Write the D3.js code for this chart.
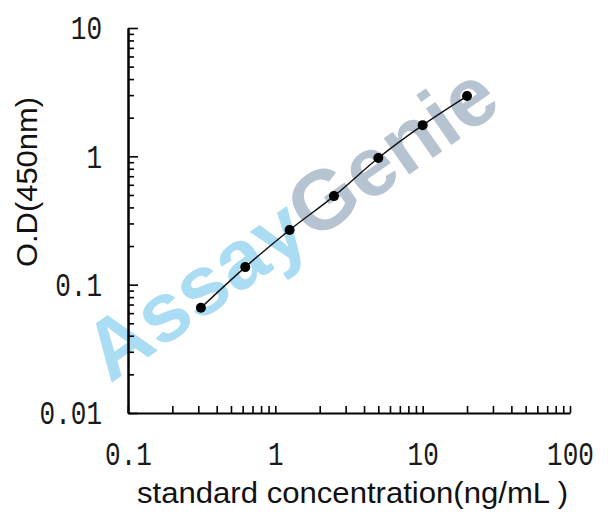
<!DOCTYPE html>
<html>
<head>
<meta charset="utf-8">
<script src="https://cdn.jsdelivr.net/npm/d3@7"></script>
<style>
  body { margin: 0; background: #fff; }
  svg { display: block; }
</style>
</head>
<body>
<div id="chart"></div>
<script>
// standard curve values
const concentrations = [0.3125, 0.625, 1.25, 2.5, 5, 10, 20];
const odValues = [0.066, 0.137, 0.267, 0.49, 0.97, 1.75, 2.95];
const xDomain = [0.1, 100];
const yDomain = [0.01, 10];
const xTitle = "standard concentration(ng/mL )";
const yTitle = "O.D(450nm)";

const width = 608, height = 527;
const svg = d3.select("#chart").append("svg")
  .attr("width", width).attr("height", height);

// scales
const x = d3.scaleLog().domain(xDomain).range([128, 570]);
const y = d3.scaleLog().domain(yDomain).range([413, 28]);

const isDecade = d => Math.abs(Math.log10(d) - Math.round(Math.log10(d))) < 1e-6;
const fmt = d => isDecade(d) ? String(+d.toPrecision(1)) : "";

// watermark behind the plot
const wm = svg.append("text")
  .attr("transform", "translate(110,384) rotate(-35)")
  .style("font-family", "'Liberation Sans', Arial, sans-serif")
  .style("font-weight", "bold")
  .style("font-size", "84px");
wm.append("tspan").attr("fill", "#aadcf3").text("Assay");
wm.append("tspan").attr("fill", "#b6c3d0").text("Genie");

// x axis, ticks point inward
svg.append("g")
  .attr("transform", `translate(0,${y.range()[0]})`)
  .call(d3.axisBottom(x).tickValues(x.ticks()).tickFormat(fmt)
    .tickSizeInner(-7).tickSizeOuter(0).tickPadding(28));

// y axis minor ticks
svg.append("g")
  .attr("transform", `translate(${x.range()[0]},0)`)
  .call(d3.axisLeft(y).tickValues(y.ticks().filter(d => !isDecade(d)))
    .tickFormat("").tickSizeInner(-6).tickSizeOuter(0));

// y axis major ticks + labels
svg.append("g")
  .attr("transform", `translate(${x.range()[0]},0)`)
  .call(d3.axisLeft(y).tickValues(y.ticks().filter(isDecade)).tickFormat(fmt)
    .tickSizeInner(-10).tickSizeOuter(0).tickPadding(26));

svg.selectAll(".domain").attr("stroke", "#000").attr("stroke-width", 2);
svg.selectAll(".tick line").attr("stroke", "#000").attr("stroke-width", 1.6);
svg.selectAll(".tick text")
  .attr("fill", "#1a1a1a")
  .style("font-family", "'Liberation Mono', 'DejaVu Sans Mono', monospace")
  .style("font-size", "34px")
  .each(function () {
    const t = d3.select(this).text();
    if (t) d3.select(this).attr("textLength", t.length * 15.6)
      .attr("lengthAdjust", "spacingAndGlyphs");
  });

// fitted curve
const line = d3.line()
  .x((d, i) => x(concentrations[i]))
  .y(d => y(d))
  .curve(d3.curveMonotoneX);

svg.append("path")
  .datum(odValues)
  .attr("d", line)
  .attr("fill", "none")
  .attr("stroke", "#111")
  .attr("stroke-width", 1.4);

svg.selectAll("circle.pt")
  .data(odValues)
  .join("circle")
  .attr("class", "pt")
  .attr("cx", (d, i) => x(concentrations[i]))
  .attr("cy", d => y(d))
  .attr("r", 5)
  .attr("fill", "#000");

// axis titles
svg.append("text")
  .attr("x", 137).attr("y", 503)
  .attr("textLength", 431)
  .attr("lengthAdjust", "spacingAndGlyphs")
  .attr("fill", "#111")
  .style("font-family", "'Liberation Sans', Arial, sans-serif")
  .style("font-size", "30px")
  .text(xTitle);

svg.append("text")
  .attr("transform", "translate(37,267) rotate(-90)")
  .attr("textLength", 170)
  .attr("lengthAdjust", "spacingAndGlyphs")
  .attr("fill", "#111")
  .style("font-family", "'Liberation Sans', Arial, sans-serif")
  .style("font-size", "30px")
  .text(yTitle);
</script>
</body>
</html>
